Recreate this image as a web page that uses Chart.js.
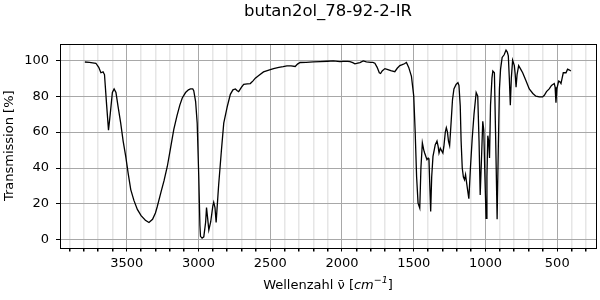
<!DOCTYPE html>
<html>
<head>
<meta charset="utf-8">
<script src="https://cdn.jsdelivr.net/npm/chart.js@4"></script>
<style>
  body { margin: 0; background: #fff; }
  #wrap { width: 600px; height: 300px; }
</style>
</head>
<body>
<div id="wrap"><canvas id="irChart"></canvas></div>
<script>
const chartTitle = "butan2ol_78-92-2-IR";

// wavenumber [cm^-1]
const wavenumber = [
  3792, 3760, 3715, 3695, 3680, 3665, 3655, 3640, 3627, 3615, 3600, 3588, 3575, 3560, 3542, 3525,
  3507, 3490, 3472, 3450, 3426, 3400, 3370, 3345, 3320, 3300, 3287, 3260, 3240, 3217, 3195, 3172,
  3150, 3130, 3113, 3090, 3070, 3056, 3040, 3033, 3020, 3009, 2998, 2990, 2986, 2975, 2963, 2950,
  2944, 2936, 2928, 2915, 2900, 2894, 2885, 2877, 2860, 2840, 2824, 2800, 2778, 2760, 2743, 2730,
  2720, 2700, 2685, 2660, 2639, 2620, 2604, 2580, 2547, 2510, 2477, 2440, 2410, 2384, 2355, 2326,
  2310, 2292, 2250, 2200, 2153, 2100, 2060, 2014, 1990, 1960, 1944, 1925, 1910, 1898, 1875, 1852,
  1830, 1800, 1785, 1771, 1755, 1740, 1731, 1720, 1701, 1680, 1660, 1632, 1615, 1597, 1580, 1565,
  1551, 1535, 1516, 1500, 1490, 1480, 1470, 1458, 1450, 1440, 1430, 1424, 1408, 1400, 1394, 1388,
  1382, 1375, 1366, 1350, 1338, 1330, 1324, 1315, 1308, 1297, 1290, 1280, 1273, 1265, 1258, 1250,
  1240, 1230, 1220, 1205, 1192, 1185, 1176, 1170, 1162, 1154, 1146, 1139, 1132, 1125, 1116, 1105,
  1093, 1080, 1065, 1054, 1045, 1037, 1028, 1019, 1012, 1004, 996, 990, 984, 978, 972, 965,
  955, 949, 938, 930, 919, 911, 903, 895, 884, 870, 857, 848, 841, 834, 827, 820,
  811, 799, 793, 787, 780, 769, 755, 741, 720, 695, 670, 649, 625, 602, 590, 575,
  556, 540, 521, 515, 509, 503, 490, 482, 474, 466, 458, 448, 439, 428, 415, 405
];

// transmission [%]
const transmission = [
  99, 98.8, 98.3, 96, 93, 93.5, 92, 75, 61, 70, 82, 84, 82, 74, 65, 55,
  46.5, 37, 28, 22, 17, 13.5, 11, 9.7, 11.5, 15, 18.6, 27, 33, 41, 51, 61.5,
  69, 75, 79, 82, 83.5, 84, 84, 83, 77, 65, 35, 8, 2, 1, 1.7, 10,
  18, 12, 5.5, 10, 19, 21, 18, 9.7, 30, 50, 65, 74, 81, 83.5, 84, 83,
  82.5, 85, 86.6, 86.8, 87, 88.5, 90, 91.5, 93.5, 94.5, 95.3, 96, 96.4, 96.8, 96.8, 96.5,
  97.8, 98.7, 98.8, 99.1, 99.2, 99.4, 99.6, 99.2, 99.3, 99.3, 99.2, 98.6, 98, 98.2, 98.7, 99.6,
  99, 98.8, 98.8, 98.3, 96, 93, 92.6, 94, 95.3, 94.8, 94.2, 93.6, 95.5, 97, 97.5, 98,
  98.7, 96, 91, 80, 60, 35, 20.5, 17.7, 40, 54, 50, 48.4, 44.7, 45.5, 44.7, 30,
  15.8, 35, 46.5, 53, 55, 52, 48.4, 51, 50, 48.4, 52, 60, 62.4, 60, 55, 52.5,
  65, 78, 84, 86.5, 87.5, 86, 74.5, 55, 40, 35, 33.5, 36.3, 32, 28, 23, 40,
  56, 70, 82, 80, 55, 25, 45, 66, 61, 35, 12, 35, 58, 55, 45.6, 75,
  90, 94, 93, 60, 11.5, 50, 84, 95, 101.5, 103, 105.6, 104.5, 102.4, 90, 75, 90,
  100, 97, 92, 85, 92, 97, 95, 93, 89, 84, 81.5, 80, 79.6, 79.6, 80.5, 82.5,
  84, 86, 87, 85, 76.4, 84, 88.4, 88, 87, 90, 93, 93, 93, 95, 94.5, 94
];

const xTickValues = [];
for (let v = 300; v <= 3900; v += 100) xTickValues.push(v);
const yTickValues = [0, 20, 40, 60, 80, 100];

const points = wavenumber.map((w, i) => ({ x: w, y: transmission[i] }));

const FONT = "'DejaVu Sans', sans-serif";

// frame round the plot, title centred over the axes, x label with italic unit
const decor = {
  id: "decor",
  afterDraw(chart) {
    const { ctx, chartArea: a } = chart;
    const cx = (a.left + a.right) / 2;
    ctx.save();
    ctx.strokeStyle = "#000";
    ctx.lineWidth = 1;
    ctx.strokeRect(Math.round(a.left) + 0.5, Math.round(a.top) + 0.5,
      Math.round(a.right - a.left), Math.round(a.bottom - a.top));

    ctx.fillStyle = "#000";
    ctx.textBaseline = "middle";
    ctx.textAlign = "center";
    ctx.font = "16.5px " + FONT;
    ctx.fillText(chartTitle, cx, 11.5);

    // x axis label, pieces laid out left to right
    const parts = [
      { t: "Wellenzahl ν̄ [", f: "13px " + FONT, dy: 0 },
      { t: "cm", f: "italic 13px " + FONT, dy: 0 },
      { t: "−1", f: "italic 9.5px " + FONT, dy: -5 },
      { t: "]", f: "13px " + FONT, dy: 0 }
    ];
    let total = 0;
    parts.forEach(p => { ctx.font = p.f; p.w = ctx.measureText(p.t).width; total += p.w; });
    let x = cx - total / 2;
    ctx.textAlign = "left";
    parts.forEach(p => { ctx.font = p.f; ctx.fillText(p.t, x, 286 + p.dy); x += p.w; });
    ctx.restore();
  }
};

new Chart(document.getElementById("irChart"), {
  type: "line",
  data: {
    datasets: [{
      data: points,
      borderColor: "#000",
      borderWidth: 1.3,
      pointRadius: 0,
      tension: 0,
      fill: false
    }]
  },
  options: {
    responsive: true,
    maintainAspectRatio: false,
    animation: false,
    layout: { padding: { left: 0, right: 4, top: 44, bottom: 0 } },
    plugins: {
      legend: { display: false },
      tooltip: { enabled: false },
      title: { display: false }
    },
    scales: {
      x: {
        type: "linear",
        reverse: true,
        min: 230,
        max: 3965,
        afterBuildTicks: s => { s.ticks = xTickValues.map(v => ({ value: v })); },
        afterFit: s => { s.height = 52.5; },
        border: { display: false },
        grid: {
          color: c => (c.tick && c.tick.value % 500 === 0) ? "#a8a8a8" : "#e6e6e6",
          lineWidth: c => (c.tick && c.tick.value % 500 === 0) ? 1 : 1.5,
          tickColor: "#000",
          tickLength: 4
        },
        ticks: {
          autoSkip: false,
          maxRotation: 0,
          color: "#000",
          padding: 4,
          font: { family: FONT, size: 13 },
          callback: v => (v % 500 === 0 ? String(v) : "")
        }
      },
      y: {
        min: -4.2,
        max: 109,
        afterBuildTicks: s => { s.ticks = yTickValues.map(v => ({ value: v })); },
        afterFit: s => { s.width = 60; },
        border: { display: false },
        grid: {
          color: "#a8a8a8",
          tickColor: "#000",
          tickLength: 4,
          lineWidth: 1
        },
        ticks: {
          color: "#000",
          padding: 7,
          font: { family: FONT, size: 13 }
        },
        title: {
          display: true,
          text: "Transmission [%]",
          color: "#000",
          font: { family: FONT, size: 13 },
          padding: { top: 2, bottom: 0 }
        }
      }
    }
  },
  plugins: [decor]
});
</script>
</body>
</html>
